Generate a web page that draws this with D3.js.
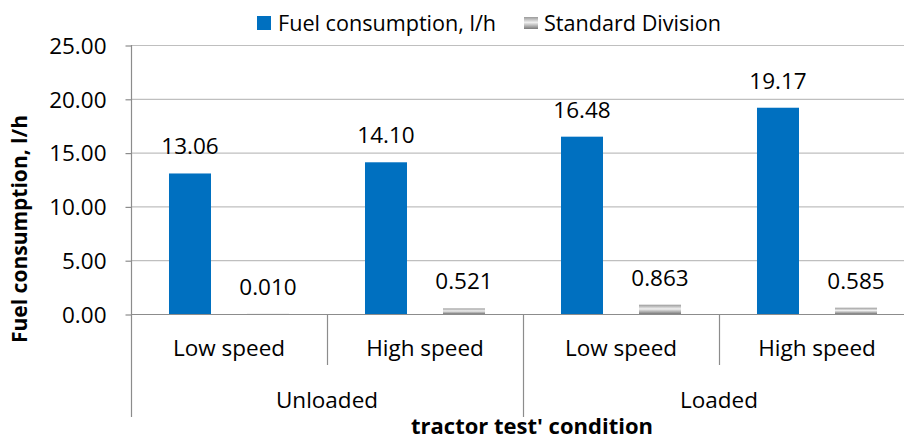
<!DOCTYPE html>
<html>
<head>
<meta charset="utf-8">
<script src="https://cdn.jsdelivr.net/npm/d3@7"></script>
<style>
  body { margin: 0; background: #fff; }
  svg text { font-family: "Open Sans", sans-serif; fill: #000; }
</style>
</head>
<body>
<div class="chart"></div>
<script>
// data
var groups = ["Unloaded", "Loaded"];
var speeds = ["Low speed", "High speed"];
var fuel = [13.06, 14.10, 16.48, 19.17];
var sdev = [0.010, 0.521, 0.863, 0.585];
var fuelLabels = ["13.06", "14.10", "16.48", "19.17"];
var sdLabels = ["0.010", "0.521", "0.863", "0.585"];
var yTicks = [0, 5, 10, 15, 20, 25];

var width = 904, height = 439;
var margin = {left: 131, top: 45, bottom: 314};
var fs = "22.5px";

var cats = [];
groups.forEach(function(g) {
    speeds.forEach(function(s) { cats.push(g + "|" + s); });
});

var rows = cats.map(function(c, i) {
    return {cat: c, speed: c.split("|")[1], fuel: fuel[i], sd: sdev[i],
            fuelLabel: fuelLabels[i], sdLabel: sdLabels[i]};
});

var svg = d3.select("div.chart").append("svg")
    .attr("width", width)
    .attr("height", height);

var defs = svg.append("defs");
var grad = defs.append("linearGradient").attr("id", "sdgrad")
    .attr("x1", 0).attr("y1", 0).attr("x2", 0).attr("y2", 1);
grad.append("stop").attr("offset", "0%").attr("stop-color", "#9a9a9a");
grad.append("stop").attr("offset", "45%").attr("stop-color", "#f0f0f0");
grad.append("stop").attr("offset", "100%").attr("stop-color", "#7a7a7a");

// category band runs past the right edge, as in the original crop
var x0 = d3.scaleBand().domain(cats).range([margin.left, 915]).padding(0);
var x1 = d3.scaleBand().domain(["fuel", "sd"]).range([0, x0.bandwidth()])
    .paddingInner(0.4615).paddingOuter(0.487);
var y = d3.scaleLinear().domain([0, 25]).range([margin.bottom, margin.top]);

// gridlines
svg.append("g").selectAll("line.grid")
    .data(yTicks.filter(function(d) { return d > 0; }))
    .enter().append("line")
    .attr("class", "grid")
    .attr("x1", margin.left).attr("x2", width)
    .attr("y1", function(d) { return y(d) + 0.5; })
    .attr("y2", function(d) { return y(d) + 0.5; })
    .attr("stroke", "#bfbfbf").attr("stroke-width", 1.2);

// y axis
var yAxis = svg.append("g")
    .attr("transform", "translate(" + (margin.left + 0.5) + ",0.5)")
    .call(d3.axisLeft(y).tickValues(yTicks).tickFormat(d3.format(".2f"))
          .tickSize(6).tickPadding(19).tickSizeOuter(0));
yAxis.select(".domain").remove();
yAxis.selectAll("line").attr("stroke", "#8c8c8c").attr("stroke-width", 1.2);
yAxis.selectAll("text").style("font-size", fs)
    .style("font-family", "Open Sans, sans-serif").attr("dy", "0.35em");

// left axis line running down through the category area
svg.append("line")
    .attr("x1", margin.left + 0.5).attr("x2", margin.left + 0.5)
    .attr("y1", margin.top).attr("y2", 417)
    .attr("stroke", "#8c8c8c").attr("stroke-width", 1.2);

// bars
var cat = svg.append("g").selectAll("g.cat")
    .data(rows).enter().append("g")
    .attr("class", "cat")
    .attr("transform", function(d) { return "translate(" + x0(d.cat) + ",0)"; });

cat.append("rect")
    .attr("x", x1("fuel"))
    .attr("y", function(d) { return y(d.fuel); })
    .attr("width", x1.bandwidth())
    .attr("height", function(d) { return y(0) - y(d.fuel); })
    .attr("fill", "#0070c0");

cat.append("rect")
    .attr("x", x1("sd"))
    .attr("y", function(d) { return y(d.sd); })
    .attr("width", x1.bandwidth())
    .attr("height", function(d) { return Math.max(1, y(0) - y(d.sd)); })
    .attr("fill", "url(#sdgrad)");

cat.append("text")
    .attr("x", x1("fuel") + x1.bandwidth() / 2)
    .attr("y", function(d) { return y(d.fuel) - 19; })
    .attr("text-anchor", "middle")
    .style("font-size", fs)
    .text(function(d) { return d.fuelLabel; });

cat.append("text")
    .attr("x", x1("sd") + x1.bandwidth() / 2)
    .attr("y", function(d) { return y(d.sd) - 19; })
    .attr("text-anchor", "middle")
    .style("font-size", fs)
    .text(function(d) { return d.sdLabel; });

// x axis baseline
svg.append("line")
    .attr("x1", margin.left).attr("x2", width)
    .attr("y1", y(0) + 0.5).attr("y2", y(0) + 0.5)
    .attr("stroke", "#8c8c8c").attr("stroke-width", 1.2);

// category separators (inner ones short, group ones long)
svg.append("g").selectAll("line.sep")
    .data(cats.slice(1)).enter().append("line")
    .attr("x1", function(d) { return x0(d) + 0.5; })
    .attr("x2", function(d) { return x0(d) + 0.5; })
    .attr("y1", y(0))
    .attr("y2", function(d, i) { return (i % 2 === 1) ? 417 : 365; })
    .attr("stroke", "#8c8c8c").attr("stroke-width", 1.2);

// speed labels
svg.append("g").selectAll("text.speed")
    .data(rows).enter().append("text")
    .attr("x", function(d) { return x0(d.cat) + x0.bandwidth() / 2; })
    .attr("y", 356)
    .attr("text-anchor", "middle")
    .style("font-size", fs)
    .text(function(d) { return d.speed; });

// group labels
svg.append("g").selectAll("text.group")
    .data(groups).enter().append("text")
    .attr("x", function(d, i) { return x0(cats[i * 2 + 1]) ; })
    .attr("y", 408)
    .attr("text-anchor", "middle")
    .style("font-size", fs)
    .text(function(d) { return d; });

// axis titles
svg.append("text")
    .attr("x", 532).attr("y", 434)
    .attr("text-anchor", "middle")
    .style("font-size", "22px").style("font-weight", "bold")
    .text("tractor test' condition");

svg.append("text")
    .attr("transform", "translate(27,229) rotate(-90)")
    .attr("text-anchor", "middle")
    .style("font-size", "21px").style("font-weight", "bold")
    .text("Fuel consumption, l/h");

// legend
var legend = svg.append("g");
legend.append("rect").attr("x", 257).attr("y", 16).attr("width", 14).attr("height", 14)
    .attr("fill", "#0070c0");
legend.append("text").attr("x", 278).attr("y", 31)
    .style("font-size", "21.6px").text("Fuel consumption, l/h");
legend.append("rect").attr("x", 524).attr("y", 17).attr("width", 14).attr("height", 12)
    .attr("fill", "url(#sdgrad)");
legend.append("text").attr("x", 544).attr("y", 31)
    .style("font-size", "21.6px").text("Standard Division");
</script>
</body>
</html>
